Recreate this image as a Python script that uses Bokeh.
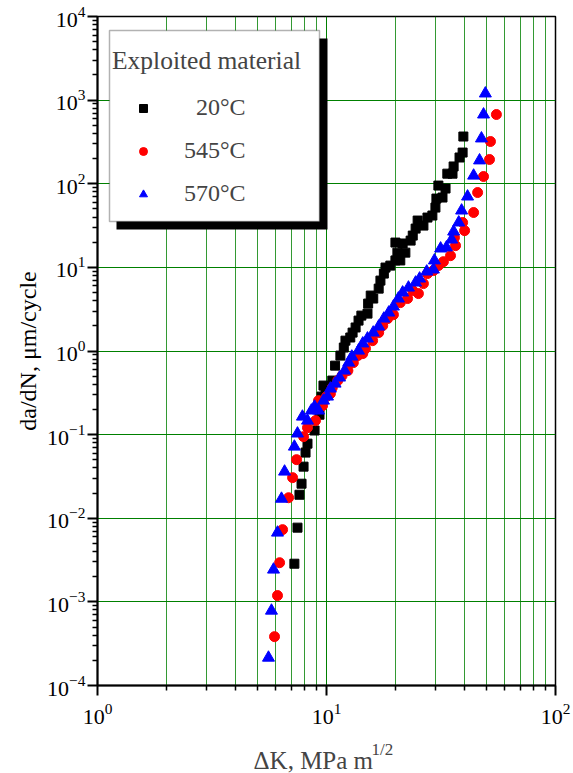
from bokeh.plotting import figure
from bokeh.layouts import column
from bokeh.models import (Range1d, FixedTicker, LogTickFormatter, Legend, LegendItem,
                          BoxAnnotation, Label)
from bokeh.embed import file_html
from bokeh.resources import INLINE

# ---------------- data ----------------
dk_20 = [7.24, 7.47, 7.62, 7.78, 7.94, 8.10, 8.26, 8.87, 9.32, 9.51, 9.90, 9.70, 10.1, 10.6,
         10.9, 11.5, 11.9, 12.1, 12.7, 13.0, 13.4, 13.8, 14.2, 15.1, 15.2, 15.6, 16.0, 16.9,
         17.2, 17.8, 18.1, 19.0, 20.0, 21.0, 20.4, 22.1, 20.0, 21.5, 23.3, 23.8, 24.5, 25.0,
         26.5, 27.6, 29.0, 29.9, 30.2, 32.1, 30.8, 33.1, 33.7, 35.5, 35.9, 38.1, 39.3, 39.6]
dadn_20 = [2.86e-3, 7.72e-3, 0.0191, 0.0259, 0.0414, 0.0610, 0.078, 0.112, 0.173, 0.285,
           0.309, 0.386, 0.365, 0.443, 0.668, 0.881, 1.10, 1.33, 1.45, 1.66, 1.91, 2.31,
           2.65, 2.80, 3.69, 4.60, 4.24, 5.57, 6.95, 8.43, 9.95, 10.5, 12.1, 12.1, 15.0,
           15.0, 19.8, 19.3, 20.9, 24.0, 29.1, 36.3, 31.6, 39.4, 41.7, 51.9, 66.5, 68.4,
           95.1, 87.7, 132, 132, 161, 206, 236, 367]

dk_545 = [5.93, 6.11, 6.24, 6.43, 6.83, 7.11, 7.40, 7.94, 8.26, 8.95, 9.23, 9.61, 10.0, 10.4,
          10.6, 11.2, 11.7, 12.4, 13.1, 13.7, 14.4, 14.8, 15.9, 16.9, 17.6, 18.5, 19.6, 21.0,
          22.6, 23.8, 25.2, 26.5, 27.6, 29.3, 30.8, 32.4, 34.8, 36.6, 36.2, 39.3, 40.1, 43.9,
          45.7, 48.5, 51.5, 52.0, 55.2]
dadn_545 = [3.84e-4, 1.19e-3, 2.94e-3, 7.31e-3, 0.0176, 0.0306, 0.0502, 0.0946, 0.121, 0.147,
            0.255, 0.222, 0.285, 0.309, 0.365, 0.443, 0.508, 0.583, 0.726, 0.881, 0.931, 1.07,
            1.33, 1.66, 2.01, 2.44, 2.72, 3.79, 4.24, 5.28, 4.86, 6.40, 8.43, 9.16, 10.5, 11.7,
            13.8, 18.2, 22.7, 34.4, 27.5, 45.3, 78.5, 122, 195, 320, 673]

dk_570 = [5.58, 5.75, 5.87, 6.11, 6.36, 6.56, 7.24, 7.47, 7.85, 8.26, 8.59, 8.87, 9.23, 9.70,
          10.1, 10.4, 10.9, 11.4, 12.0, 12.5, 12.9, 13.8, 14.4, 15.1, 16.0, 16.9, 17.8, 18.7,
          19.6, 20.6, 21.5, 22.8, 24.5, 25.5, 27.4, 29.3, 29.6, 31.5, 33.4, 35.2, 35.9, 37.8,
          38.9, 41.3, 43.9, 46.6, 47.5, 48.5, 49.4]
dadn_570 = [2.15e-4, 7.85e-4, 2.43e-3, 6.73e-3, 0.0171, 0.0361, 0.0718, 0.103, 0.164, 0.147,
            0.194, 0.216, 0.194, 0.255, 0.285, 0.355, 0.407, 0.481, 0.583, 0.726, 0.857, 1.01,
            1.23, 1.41, 1.66, 1.96, 2.44, 2.88, 3.40, 4.24, 5.00, 5.73, 6.58, 7.35, 8.91, 9.42,
            12.1, 16.8, 17.3, 21.5, 26.8, 34.4, 47.8, 70.3, 125, 190, 348, 673, 1200]

series_labels = ["\u200720\u00b0C", "545\u00b0C", "570\u00b0C"]
legend_title = "Exploited material"
x_title = "\u0394K, MPa m"
x_title_sup = "1/2"
y_title = "da/dN, \u03bcm/cycle"

x_major = [1, 10, 100]
y_major = [10.0 ** e for e in range(-4, 5)]

FONT = "Liberation Serif"

# ---------------- main figure ----------------
p = figure(width=573, height=740, x_axis_type="log", y_axis_type="log",
           x_range=Range1d(1, 100), y_range=Range1d(1e-4, 1e4),
           output_backend="svg", toolbar_location=None,
           min_border_left=97, min_border_right=18, min_border_top=16, min_border_bottom=55)
p.background_fill_color = "white"
p.border_fill_color = "white"
p.outline_line_color = "black"
p.outline_line_width = 1.5

x_minor = [k * d for d in (1, 10) for k in range(2, 10)]
y_minor = [k * 10.0 ** d for d in range(-4, 4) for k in range(2, 10)]
p.xaxis.ticker = FixedTicker(ticks=x_major, minor_ticks=x_minor)
p.yaxis.ticker = FixedTicker(ticks=y_major, minor_ticks=y_minor)
p.xaxis.formatter = LogTickFormatter()
p.yaxis.formatter = LogTickFormatter()

for ax in (p.xaxis[0], p.yaxis[0]):
    ax.axis_line_width = 2
    ax.axis_line_color = "black"
    ax.major_tick_line_width = 2
    ax.minor_tick_line_width = 1.5
    ax.major_tick_in = 0
    ax.major_tick_out = 10
    ax.minor_tick_in = 0
    ax.minor_tick_out = 5
    ax.major_label_text_font = FONT
    ax.major_label_text_font_size = "22px"
    ax.major_label_text_color = "black"
p.xaxis.major_label_standoff = 8
p.yaxis.major_label_standoff = 2

p.yaxis.axis_label = y_title
p.yaxis.axis_label_text_font = FONT
p.yaxis.axis_label_text_font_size = "24px"
p.yaxis.axis_label_text_font_style = "normal"
p.yaxis.axis_label_text_color = "black"
p.yaxis.axis_label_standoff = 3

p.xgrid.grid_line_color = "green"
p.xgrid.minor_grid_line_color = "green"
p.xgrid.minor_grid_line_alpha = 0.8
p.ygrid.grid_line_color = "green"
p.ygrid.minor_grid_line_color = None

r20 = p.scatter(dk_20, dadn_20, marker="square", size=9, color="black")
r545 = p.scatter(dk_545, dadn_545, marker="circle", size=10, color="red")
r570 = p.scatter(dk_570, dadn_570, marker="triangle", size=12, color="blue")

# legend frame with shadow
shadow = BoxAnnotation(left=116, right=327, top=38, bottom=229,
                       left_units="canvas", right_units="canvas",
                       top_units="canvas", bottom_units="canvas",
                       fill_color="black", fill_alpha=1, line_color=None)
box = BoxAnnotation(left=109, right=319, top=30, bottom=221,
                    left_units="canvas", right_units="canvas",
                    top_units="canvas", bottom_units="canvas",
                    fill_color="white", fill_alpha=1, line_color="black", line_width=1.5)
p.add_layout(shadow)
p.add_layout(box)

legend = Legend(items=[LegendItem(label=series_labels[0], renderers=[r20]),
                       LegendItem(label=series_labels[1], renderers=[r545]),
                       LegendItem(label=series_labels[2], renderers=[r570])],
                location=(15, 478), title=legend_title,
                title_text_font=FONT, title_text_font_size="25.5px", title_text_font_style="normal",
                label_text_font=FONT, label_text_font_size="24px",
                glyph_width=62, glyph_height=20, label_standoff=10, label_height=20,
                spacing=16, padding=0, margin=0, title_standoff=18,
                border_line_color=None, background_fill_alpha=0)
p.add_layout(legend)

# ---------------- strip below holding the x-axis title ----------------
t = figure(width=573, height=33, x_range=Range1d(0, 1), y_range=Range1d(0, 1),
           x_axis_location=None, y_axis_location=None,
           output_backend="svg", toolbar_location=None, min_border=0)
t.outline_line_color = None
t.grid.visible = False
t.background_fill_color = "white"
t.border_fill_color = "white"
t.add_layout(Label(x=253, y=20, x_units="canvas", y_units="canvas", text=x_title,
                   text_font=FONT, text_font_size="25px", text_baseline="middle"))
t.add_layout(Label(x=371, y=9, x_units="canvas", y_units="canvas", text=x_title_sup,
                   text_font=FONT, text_font_size="17px", text_baseline="middle"))

layout = column(p, t, spacing=0)
open("out.html", "w").write(file_html(layout, INLINE))
